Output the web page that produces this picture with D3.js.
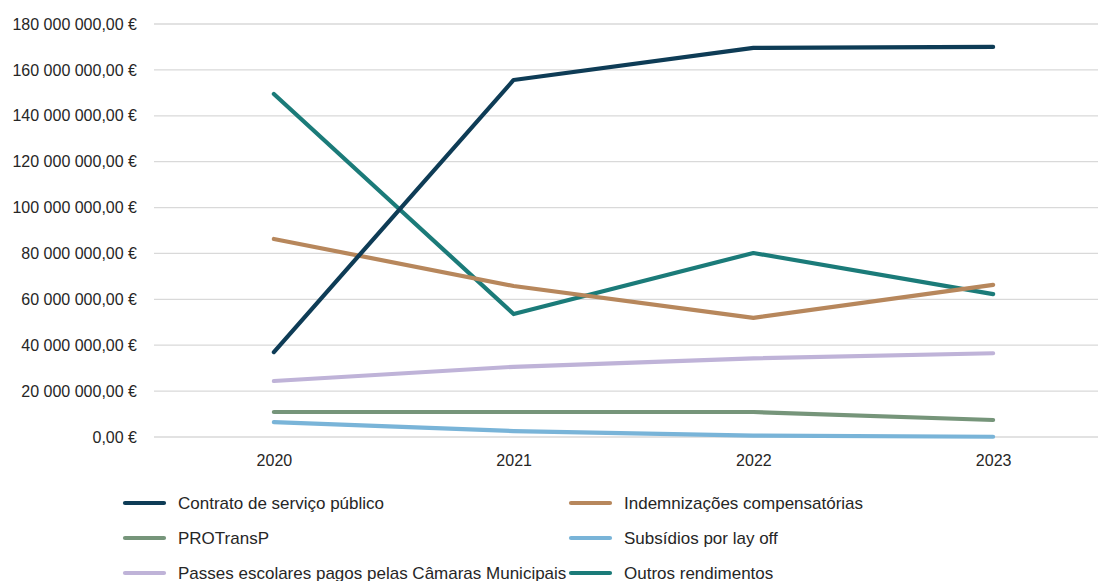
<!DOCTYPE html>
<html>
<head>
<meta charset="utf-8">
<script src="https://d3js.org/d3.v7.min.js"></script>
<style>
  body { margin: 0; background: #fff; }
  svg text { font-family: "Liberation Sans", Arial, sans-serif; fill: #262626; }
</style>
</head>
<body>
<svg id="chart"></svg>
<script>
// values (euros)
var years = ["2020", "2021", "2022", "2023"];
var contrato = [37000000, 155600000, 169600000, 170000000];
var indemnizacoes = [86300000, 65800000, 51900000, 66300000];
var protransp = [10900000, 10900000, 10900000, 7400000];
var layoff = [6500000, 2600000, 600000, 100000];
var passes = [24400000, 30600000, 34300000, 36500000];
var outros = [149500000, 53600000, 80200000, 62300000];
var yTicks = [0, 20000000, 40000000, 60000000, 80000000, 100000000, 120000000, 140000000, 160000000, 180000000];

var series = [
  { name: "Contrato de serviço público", values: contrato, color: "#0e3c56" },
  { name: "Indemnizações compensatórias", values: indemnizacoes, color: "#b7875c" },
  { name: "PROTransP", values: protransp, color: "#76957a" },
  { name: "Subsídios por lay off", values: layoff, color: "#79b4d8" },
  { name: "Passes escolares pagos pelas Câmaras Municipais", values: passes, color: "#bfb3d8" },
  { name: "Outros rendimentos", values: outros, color: "#1b7b79" }
];

var width = 1098, height = 581;
var plotLeft = 154, plotRight = 1113, plotTop = 24, plotBottom = 437;

var svg = d3.select("#chart")
  .attr("width", width)
  .attr("height", height);

var x = d3.scalePoint()
  .domain(years)
  .range([plotLeft, plotRight])
  .padding(0.5);

var y = d3.scaleLinear()
  .domain([0, 180000000])
  .range([plotBottom, plotTop]);

var locale = d3.formatLocale({ decimal: ",", thousands: "\u00a0", grouping: [3], currency: ["", " €"] });
var fmt = locale.format("$,.2f");

// gridlines
svg.append("g")
  .selectAll("line")
  .data(yTicks)
  .enter()
  .append("line")
  .attr("x1", plotLeft)
  .attr("x2", plotRight)
  .attr("y1", function(d) { return y(d); })
  .attr("y2", function(d) { return y(d); })
  .attr("stroke", "#d9d9d9")
  .attr("stroke-width", 1.3);

// y axis labels
var yAxis = svg.append("g")
  .attr("transform", "translate(" + (plotLeft - 17) + ",0)")
  .call(d3.axisLeft(y).tickValues(yTicks).tickFormat(fmt).tickSize(0).tickPadding(0));
yAxis.select(".domain").remove();
yAxis.selectAll("text")
  .attr("font-size", 16)
  .attr("font-family", "Liberation Sans, Arial, sans-serif")
  .attr("fill", "#262626");

// x axis labels
var xAxis = svg.append("g")
  .attr("transform", "translate(0," + (plotBottom + 18) + ")")
  .call(d3.axisBottom(x).tickSize(0).tickPadding(0));
xAxis.select(".domain").remove();
xAxis.selectAll("text")
  .attr("font-size", 16)
  .attr("font-family", "Liberation Sans, Arial, sans-serif")
  .attr("fill", "#262626");

var line = d3.line()
  .x(function(d, i) { return x(years[i]); })
  .y(function(d) { return y(d); });

svg.append("g")
  .selectAll("path")
  .data(series.slice().reverse())
  .enter()
  .append("path")
  .attr("d", function(s) { return line(s.values); })
  .attr("fill", "none")
  .attr("stroke", function(s) { return s.color; })
  .attr("stroke-width", 4.2)
  .attr("stroke-linecap", "round")
  .attr("stroke-linejoin", "round");

// legend
var legend = svg.append("g")
  .selectAll("g")
  .data(series)
  .enter()
  .append("g")
  .attr("transform", function(s, i) {
    var col = i % 2, row = Math.floor(i / 2);
    return "translate(" + (col === 0 ? 123 : 569) + "," + (503 + row * 35) + ")";
  });

legend.append("line")
  .attr("x1", 2)
  .attr("x2", 41)
  .attr("stroke", function(s) { return s.color; })
  .attr("stroke-width", 4.2)
  .attr("stroke-linecap", "round");

legend.append("text")
  .attr("x", 55)
  .attr("dy", "0.35em")
  .attr("font-size", 17)
  .text(function(s) { return s.name; });
</script>
</body>
</html>
